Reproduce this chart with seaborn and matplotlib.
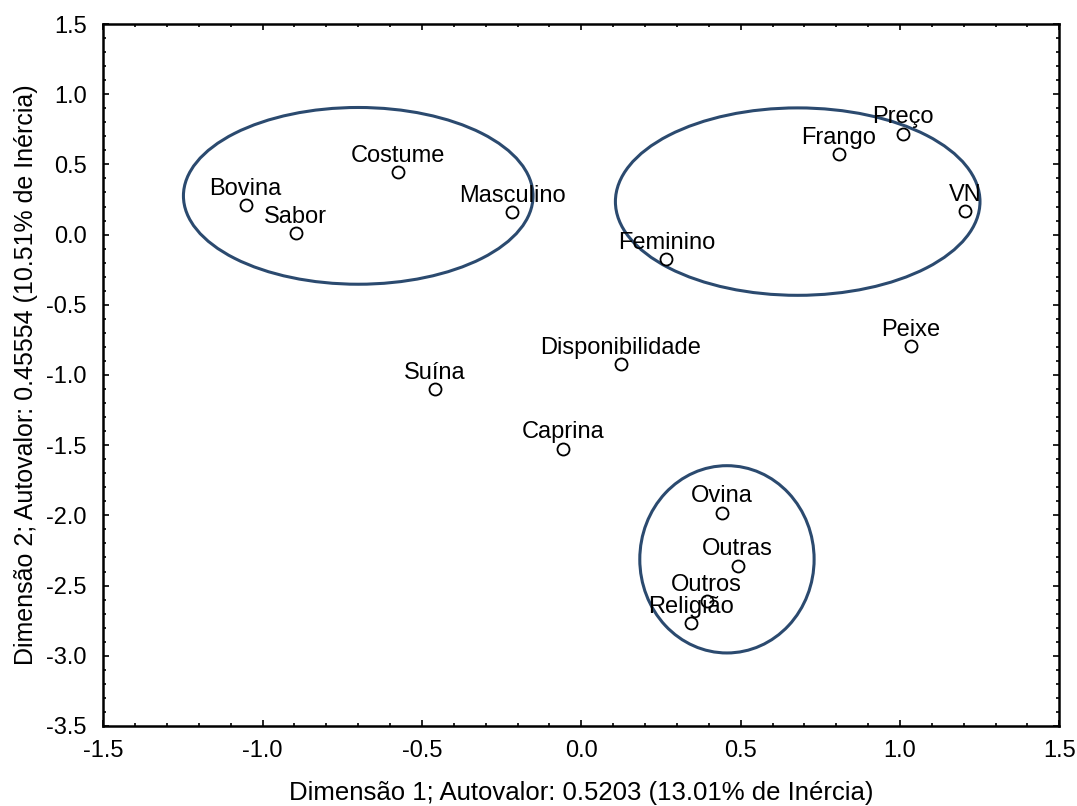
import matplotlib
matplotlib.use("Agg")
import matplotlib.pyplot as plt
from matplotlib.patches import Ellipse
from matplotlib.ticker import MultipleLocator, FormatStrFormatter
import seaborn as sns
import pandas as pd

# Correspondence analysis coordinates (dimension 1, dimension 2)
labels = ["Bovina", "Sabor", "Costume", "Masculino", "Feminino", "Frango",
          "Preço", "VN", "Peixe", "Disponibilidade", "Suína", "Caprina",
          "Ovina", "Outras", "Outros", "Religião"]
dim1 = [-1.053, -0.896, -0.575, -0.217, 0.267, 0.808,
        1.009, 1.204, 1.035, 0.123, -0.459, -0.057,
        0.440, 0.491, 0.393, 0.343]
dim2 = [0.208, 0.010, 0.443, 0.159, -0.176, 0.571,
        0.720, 0.166, -0.794, -0.922, -1.100, -1.527,
        -1.982, -2.359, -2.613, -2.767]

# Grouping ellipses: centre x, centre y, width, height
group_cx = [-0.700, 0.679, 0.457]
group_cy = [0.276, 0.235, -2.313]
group_w = [1.097, 1.144, 0.547]
group_h = [1.259, 1.335, 1.334]

xlabel = "Dimensão 1; Autovalor: 0.5203 (13.01% de Inércia)"
ylabel = "Dimensão 2; Autovalor: 0.45554 (10.51% de Inércia)"

sns.set_theme(style="white")
plt.rcParams["font.family"] = ["Liberation Sans", "DejaVu Sans"]
plt.rcParams["text.color"] = "black"
plt.rcParams["axes.labelcolor"] = "black"
plt.rcParams["xtick.color"] = "black"
plt.rcParams["ytick.color"] = "black"

df = pd.DataFrame({"d1": dim1, "d2": dim2, "label": labels})

fig = plt.figure(figsize=(10.77, 8.06), dpi=100)
ax = fig.add_axes([0.0959, 0.0993, 0.8877, 0.8709])

sns.scatterplot(data=df, x="d1", y="d2", ax=ax, s=75, marker="o",
                facecolor="white", edgecolor="black", linewidth=1.3,
                zorder=3, legend=False)

for x, y, t in zip(dim1, dim2, labels):
    ax.annotate(t, (x, y), xytext=(0, 10.5), textcoords="offset pixels",
                ha="center", va="baseline", fontsize=17, color="black",
                zorder=4)

for cx, cy, w, h in zip(group_cx, group_cy, group_w, group_h):
    ax.add_patch(Ellipse((cx, cy), w, h, fill=False, edgecolor="#2b4a6f",
                         linewidth=2.2, zorder=2))

ax.set_xlim(-1.5, 1.5)
ax.set_ylim(-3.5, 1.5)
ax.xaxis.set_major_locator(MultipleLocator(0.5))
ax.yaxis.set_major_locator(MultipleLocator(0.5))
ax.xaxis.set_minor_locator(MultipleLocator(0.1))
ax.yaxis.set_minor_locator(MultipleLocator(0.1))
ax.xaxis.set_major_formatter(FormatStrFormatter("%.1f"))
ax.yaxis.set_major_formatter(FormatStrFormatter("%.1f"))
ax.tick_params(which="both", direction="in", top=True, right=True,
               bottom=True, left=True, color="black", width=1.2)
ax.tick_params(which="major", length=4, labelsize=17)
ax.tick_params(axis="x", which="major", pad=10)
ax.tick_params(axis="y", which="major", pad=12)
ax.tick_params(which="minor", length=2.5)

for sp in ax.spines.values():
    sp.set_visible(True)
    sp.set_color("black")
    sp.set_linewidth(1.8)

ax.set_xlabel(xlabel, fontsize=18.5, labelpad=14)
ax.set_ylabel(ylabel, fontsize=18, labelpad=6)

fig.savefig("out.png", dpi=100, facecolor="white")
